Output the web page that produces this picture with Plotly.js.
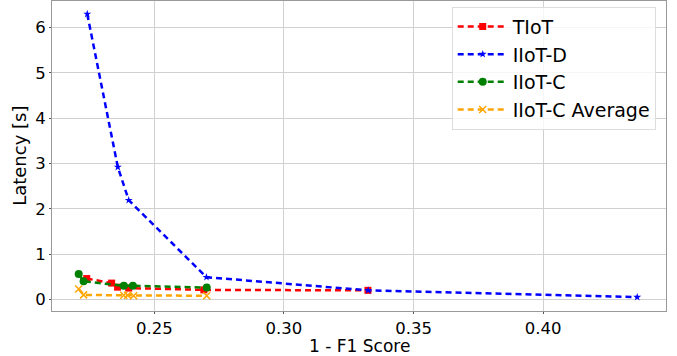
<!DOCTYPE html>
<html><head><meta charset="utf-8">
<script src="https://cdn.plot.ly/plotly-3.0.1.min.js"></script>
<style>html,body{margin:0;padding:0;background:#fff}#c{width:677px;height:356px}</style>
</head><body><div id="c"></div>
<script>
const tiotX = [0.2239, 0.2335, 0.2358, 0.2401, 0.2691, 0.3324];
const tiotY = [0.46, 0.36, 0.27, 0.25, 0.21, 0.20];
const iiotDX = [0.2241, 0.2359, 0.2401, 0.2701, 0.3325, 0.4363];
const iiotDY = [6.30, 2.92, 2.19, 0.49, 0.20, 0.05];
const iiotCX = [0.2208, 0.2227, 0.2382, 0.2417, 0.2702];
const iiotCY = [0.56, 0.40, 0.30, 0.30, 0.26];
const avgX = [0.2208, 0.2227, 0.2382, 0.2397, 0.2420, 0.2702];
const avgY = [0.23, 0.10, 0.09, 0.09, 0.08, 0.08];
const names = ['TIoT', 'IIoT-D', 'IIoT-C', 'IIoT-C Average'];
const xTitle = '1 - F1 Score';
const yTitle = 'Latency [s]';

const font = {family: 'DejaVu Sans', color: '#000'};
function tr(x, y, name, color, symbol, size) {
  return {x: x, y: y, name: name, type: 'scatter', mode: 'lines+markers',
    line: {color: color, dash: '6px,4px', width: 2.5},
    marker: {color: color, symbol: symbol, size: size, line: {width: symbol === 'x-thin' ? 1.5 : 0, color: color}}};
}
const data = [
  tr(tiotX, tiotY, names[0], '#ff0000', 'square', 7),
  tr(iiotDX, iiotDY, names[1], '#0000ff', 'star', 6),
  tr(iiotCX, iiotCY, names[2], '#008000', 'circle', 8),
  tr(avgX, avgY, names[3], '#ffa500', 'x-thin', 7)
];
const axisCommon = {showline: true, mirror: true, linecolor: '#999', linewidth: 1,
  showgrid: true, gridcolor: '#d0d0d0', gridwidth: 1, zeroline: false,
  ticks: 'outside', ticklen: 2, tickcolor: '#555', tickfont: {family: 'DejaVu Sans', size: 16.5, color: '#000'}};
const layout = {
  width: 677, height: 356,
  margin: {l: 52, r: 11, t: 1, b: 45},
  paper_bgcolor: '#fff', plot_bgcolor: '#fff',
  font: font,
  showlegend: true,
  xaxis: Object.assign({}, axisCommon, {range: [0.2105, 0.4474],
    tickvals: [0.25, 0.30, 0.35, 0.40], ticktext: ['0.25', '0.30', '0.35', '0.40']}),
  yaxis: Object.assign({}, axisCommon, {range: [-0.256, 6.587],
    tickvals: [0, 1, 2, 3, 4, 5, 6]}),
  annotations: [
    {text: xTitle, xref: 'paper', yref: 'paper', x: 0.5, y: -0.1113, xanchor: 'center', yanchor: 'middle',
     showarrow: false, font: {family: 'DejaVu Sans', size: 17, color: '#000'}, borderpad: 0},
    {text: yTitle, xref: 'paper', yref: 'paper', x: -0.054, y: 0.5, xanchor: 'center', yanchor: 'middle',
     textangle: -90, showarrow: false, font: {family: 'DejaVu Sans', size: 18, color: '#000'}, borderpad: 0}
  ],
  legend: {x: 0.651, y: 0.982, xanchor: 'left', yanchor: 'top', itemwidth: 50,
    bgcolor: 'rgba(255,255,255,0.8)', bordercolor: '#dddddd', borderwidth: 1,
    font: {family: 'DejaVu Sans', size: 19, color: '#000'}, tracegroupgap: 0}
};
Plotly.newPlot('c', data, layout, {displayModeBar: false, staticPlot: true});
</script></body></html>
